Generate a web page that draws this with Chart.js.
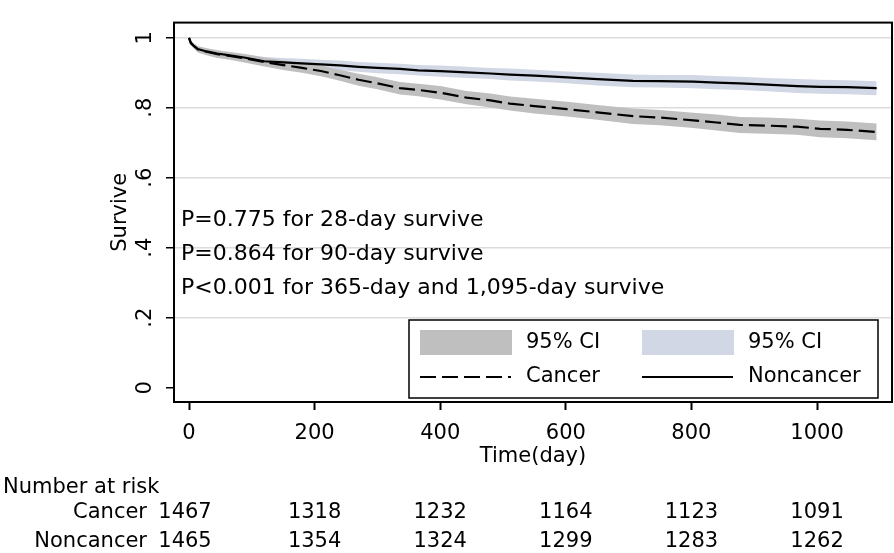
<!DOCTYPE html>
<html>
<head>
<meta charset="utf-8">
<script src="https://cdn.jsdelivr.net/npm/chart.js@4/dist/chart.umd.min.js"></script>
<style>
  body { margin: 0; background: #fff; }
  #wrap { width: 894px; height: 553px; }
</style>
</head>
<body>
<div id="wrap"><canvas id="km" width="894" height="553"></canvas></div>
<script>
// time points (days)
const days = [0, 3, 7, 14, 28, 45, 65, 90, 120, 150, 180, 210, 240, 270, 300, 336, 365, 400, 442, 480, 511, 550, 602, 650, 707, 750, 803, 840, 877, 920, 968, 1005, 1048, 1095]

const cancerSurv  = [1, .985, .978, .967, .960, .953, .948, .941, .931, .922, .914, .905, .893, .880, .870, .856, .851, .843, .829, .821, .812, .805, .796, .787, .776, .772, .764, .758, .751, .749, .746, .740, .737, .731]
const cancerLow   = [1, .979, .971, .958, .950, .942, .937, .929, .918, .908, .900, .890, .877, .863, .853, .838, .833, .824, .810, .801, .792, .784, .775, .766, .754, .750, .742, .735, .728, .726, .723, .716, .713, .707]
const cancerHigh  = [1, .991, .985, .976, .970, .964, .959, .953, .944, .936, .928, .920, .909, .897, .887, .874, .869, .862, .848, .841, .832, .826, .817, .808, .798, .794, .786, .781, .774, .772, .769, .764, .761, .755]

const noncSurv    = [1, .985, .978, .968, .961, .955, .950, .943, .933, .930, .927, .924, .921, .917, .914, .911, .907, .905, .901, .898, .895, .892, .887, .882, .877, .876, .875, .872, .870, .866, .862, .860, .859, .856]
const noncLow     = [1, .979, .971, .960, .952, .945, .940, .932, .921, .918, .914, .911, .907, .903, .899, .896, .892, .889, .885, .882, .878, .875, .870, .864, .859, .858, .856, .853, .851, .847, .842, .840, .839, .836]
const noncHigh    = [1, .991, .985, .976, .970, .965, .960, .954, .945, .942, .940, .937, .935, .931, .929, .926, .922, .921, .917, .914, .912, .909, .904, .900, .895, .894, .894, .891, .889, .885, .882, .880, .879, .876]

const xTicks = [0, 200, 400, 600, 800, 1000]
const yTicks = [0, 0.2, 0.4, 0.6, 0.8, 1]
const yTickLabels = ['0', '.2', '.4', '.6', '.8', '1']

const riskTimes = [0, 200, 400, 600, 800, 1000]
const riskCancer = [1467, 1318, 1232, 1164, 1123, 1091]
const riskNoncancer = [1465, 1354, 1324, 1299, 1283, 1262]

const pNotes = [
    'P=0.775 for 28-day survive',
    'P=0.864 for 90-day survive',
    'P<0.001 for 365-day and 1,095-day survive'
]

const FONT = "'DejaVu Sans', sans-serif"
const cancerBand = '#bfbfbf'
const noncBand = '#d1d7e4'

function pts(ys) {
    return days.map((d, i) => ({x: d, y: ys[i]}))
}

function band(ys, fill, color, order) {
    return {
        data: pts(ys), borderWidth: 0, pointRadius: 0, tension: 0,
        fill: fill, backgroundColor: color, order: order
    }
}

// frame round the plot region
const framePlugin = {
    id: 'frame',
    afterDraw(chart) {
        const a = chart.chartArea, ctx = chart.ctx
        ctx.save()
        ctx.strokeStyle = '#000'
        ctx.lineWidth = 2
        ctx.strokeRect(a.left, a.top, a.right - a.left, a.bottom - a.top)
        ctx.restore()
    }
}

// p-values, legend box and number-at-risk table
const extrasPlugin = {
    id: 'extras',
    afterDraw(chart) {
        const ctx = chart.ctx
        const xs = chart.scales.x
        ctx.save()
        ctx.fillStyle = '#000'
        ctx.textBaseline = 'middle'

        ctx.font = '22px ' + FONT
        ctx.textAlign = 'left'
        pNotes.forEach((t, i) => ctx.fillText(t, 181, 220 + i * 34))

        // legend
        ctx.strokeStyle = '#000'
        ctx.lineWidth = 1.5
        ctx.strokeRect(409, 320, 469, 78)
        ctx.fillStyle = cancerBand
        ctx.fillRect(420, 330, 92, 25)
        ctx.fillStyle = noncBand
        ctx.fillRect(642, 330, 92, 25)
        ctx.lineWidth = 2
        ctx.setLineDash([16, 6])
        ctx.beginPath(); ctx.moveTo(420, 377); ctx.lineTo(511, 377); ctx.stroke()
        ctx.setLineDash([])
        ctx.beginPath(); ctx.moveTo(642, 377); ctx.lineTo(733, 377); ctx.stroke()
        ctx.fillStyle = '#000'
        ctx.font = '21px ' + FONT
        ctx.fillText('95% CI', 526, 343)
        ctx.fillText('95% CI', 748, 343)
        ctx.fillText('Cancer', 526, 377)
        ctx.fillText('Noncancer', 748, 377)

        // number at risk
        ctx.fillText('Number at risk', 3, 488)
        ctx.textAlign = 'right'
        ctx.fillText('Cancer', 147, 513)
        ctx.fillText('Noncancer', 147, 542)
        ctx.textAlign = 'center'
        riskTimes.forEach((t, i) => {
            const px = xs.getPixelForValue(t) - (i === 0 ? 4 : 0)
            ctx.fillText(String(riskCancer[i]), px, 513)
            ctx.fillText(String(riskNoncancer[i]), px, 542)
        })
        ctx.restore()
    }
}

new Chart(document.getElementById('km'), {
    type: 'line',
    data: {
        datasets: [
            band(noncLow, false, noncBand, 3),
            band(noncHigh, '-1', noncBand, 3),
            band(cancerLow, false, cancerBand, 2),
            band(cancerHigh, '-1', cancerBand, 2),
            {data: pts(noncSurv), borderColor: '#000', borderWidth: 2.2, pointRadius: 0, fill: false, order: 1},
            {data: pts(cancerSurv), borderColor: '#000', borderWidth: 2.2, borderDash: [16, 6], pointRadius: 0, fill: false, order: 0}
        ]
    },
    options: {
        responsive: false,
        animation: false,
        layout: {padding: {left: 0, right: 2, top: 2, bottom: 0}},
        plugins: {legend: {display: false}, tooltip: {enabled: false}},
        scales: {
            x: {
                type: 'linear', min: -23.9, max: 1119.4,
                afterBuildTicks: s => { s.ticks = xTicks.map(v => ({value: v})) },
                afterFit: s => { s.height = 151 },
                border: {display: false},
                grid: {drawOnChartArea: false, tickLength: 8, tickColor: '#000', tickWidth: 2},
                ticks: {color: '#000', font: {family: FONT, size: 21}, padding: 11, maxRotation: 0,
                    callback: v => String(v)},
                title: {display: true, text: 'Time(day)', color: '#000', font: {family: FONT, size: 21}, padding: {top: 0, bottom: 84}}
            },
            y: {
                min: -0.0407, max: 1.0434,
                afterBuildTicks: s => { s.ticks = yTicks.map(v => ({value: v})) },
                afterFit: s => { s.width = 174 },
                border: {display: false},
                grid: {
                    color: c => c.tick && c.tick.value === 0 ? 'rgba(0,0,0,0)' : '#dcdcdc',
                    lineWidth: 1.5, tickLength: 8, tickColor: '#000', tickWidth: 1.5
                },
                ticks: {
                    color: '#000', font: {family: FONT, size: 21}, padding: 10,
                    minRotation: 90, maxRotation: 90, crossAlign: 'center',
                    callback: (v) => yTickLabels[yTicks.indexOf(v)]
                },
                title: {display: true, text: 'Survive', color: '#000', font: {family: FONT, size: 21}, padding: {top: 108, bottom: 0}}
            }
        }
    },
    plugins: [framePlugin, extrasPlugin]
})
</script>
</body>
</html>
